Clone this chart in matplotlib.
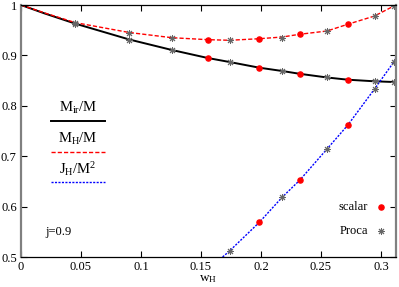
import matplotlib
matplotlib.use("Agg")
import matplotlib.pyplot as plt
from matplotlib.lines import Line2D

plt.rcParams['font.family'] = ['Liberation Serif', 'DejaVu Serif']
plt.rcParams['mathtext.fontset'] = 'custom'
plt.rcParams['mathtext.rm'] = 'Liberation Serif'
plt.rcParams['mathtext.it'] = 'Liberation Serif'

# Curves
curve_w_ir = [0.0, 0.02, 0.0453, 0.0903, 0.1258, 0.1557, 0.1738, 0.1986, 0.2178, 0.2322, 0.255, 0.2722, 0.2947, 0.3107, 0.3125]
curve_ir = [1.0, 0.983, 0.963, 0.9315, 0.9107, 0.8948, 0.8869, 0.8756, 0.869, 0.8635, 0.8562, 0.8518, 0.8486, 0.8472, 0.8471]

curve_w_mh = [0.0, 0.02, 0.0453, 0.0903, 0.1258, 0.1557, 0.1738, 0.1986, 0.2178, 0.2322, 0.255, 0.2722, 0.2947, 0.3107, 0.3125]
curve_mh = [1.0, 0.984, 0.965, 0.9454, 0.9351, 0.9312, 0.930, 0.9331, 0.9365, 0.9419, 0.9484, 0.9617, 0.9782, 0.998, 1.0]

curve_w_jh = [0.168, 0.1738, 0.1986, 0.2178, 0.2322, 0.255, 0.2722, 0.2947, 0.3107, 0.3125]
curve_jh = [0.5, 0.512, 0.5688, 0.619, 0.6522, 0.7143, 0.7613, 0.8337, 0.887, 0.897]

# Scalar points
scalar_w = [0.1557, 0.1986, 0.2322, 0.2722]
scalar_mh = [0.9312, 0.9331, 0.9419, 0.9617]
scalar_ir = [0.8948, 0.8756, 0.8635, 0.8518]
scalar_jw = [0.1986, 0.2322, 0.2722]
scalar_jh = [0.5688, 0.6522, 0.7613]

# Proca points
proca_w = [0.0453, 0.0903, 0.1258, 0.1738, 0.2178, 0.255, 0.2947, 0.3107]
proca_mh = [0.9637, 0.9454, 0.9351, 0.930, 0.9351, 0.9484, 0.9782, 0.998]
proca_ir = [0.962, 0.9315, 0.9107, 0.8869, 0.869, 0.8562, 0.8486, 0.8472]
proca_jw = [0.1738, 0.2178, 0.255, 0.2947, 0.3107]
proca_jh = [0.5119, 0.619, 0.7143, 0.8337, 0.887]

xticks = [0, 0.05, 0.1, 0.15, 0.2, 0.25, 0.3]
xticklabels = ['0', '0.05', '0.1', '0.15', '0.2', '0.25', '0.3']
yticks = [0.5, 0.6, 0.7, 0.8, 0.9, 1.0]
yticklabels = ['0.5', '0.6', '0.7', '0.8', '0.9', '1']

fig = plt.figure(figsize=(3.99, 2.87), dpi=100)
ax = fig.add_axes([21/399, 1-257/287, 375/399, 252/287])

ax.plot(curve_w_ir, curve_ir, color='black', lw=1.4, solid_capstyle='butt')
ax.plot(curve_w_mh, curve_mh, color='red', lw=1.0, dashes=(3, 1.5))
ax.plot(curve_w_jh, curve_jh, color='blue', lw=1.0, dashes=(1.5, 1.0))

ast = (8, 2, 0)
star_kw = dict(ls='none', marker=ast, ms=5, mew=0.7, color='#666666')
dot_kw = dict(ls='none', marker='o', ms=3.7, color='red', mec='red')

ax.plot(scalar_w, scalar_mh, **dot_kw)
ax.plot(scalar_w, scalar_ir, **dot_kw)
ax.plot(scalar_jw, scalar_jh, **dot_kw)
ax.plot(proca_w, proca_mh, **star_kw)
ax.plot(proca_w, proca_ir, **star_kw)
ax.plot(proca_jw, proca_jh, **star_kw)

ax.set_xlim(0, 0.3125)
ax.set_ylim(0.5, 1.0)
ax.set_xticks(xticks)
ax.set_xticklabels(xticklabels)
ax.set_yticks(yticks)
ax.set_yticklabels(yticklabels)
ax.tick_params(direction='in', top=True, right=True, length=4, width=0.8,
               labelsize=9, pad=3)
for s in ['top', 'bottom']:
    ax.spines[s].set_linewidth(0.9)
    ax.spines[s].set_color('black')
for s in ['left', 'right']:
    ax.spines[s].set_linewidth(1.6)
    ax.spines[s].set_color('#808080')

ax.set_xlabel(r'w$_\mathregular{H}$', fontsize=9.5, labelpad=0)

tr = ax.transAxes
def to_axes(px, py):
    x0, y0 = 21, 257
    return (px - x0) / 375, (y0 - py) / 252

lx0, _ = to_axes(51, 0)
lx1, _ = to_axes(105, 0)
for label, ty, ly, kw in [
    (r'M$_\mathregular{ir}$/M', 108, 121, dict(color='black', lw=1.4)),
    (r'M$_\mathregular{H}$/M', 139, 151.5, dict(color='red', lw=1.0, dashes=(3, 1.5))),
    (r'J$_\mathregular{H}$/M$^\mathregular{2}$', 169, 181.5, dict(color='blue', lw=1.0, dashes=(1.5, 1.0))),
]:
    cx, cy = to_axes(78, ty)
    ax.text(cx, cy, label, transform=tr, ha='center', va='center', fontsize=10.5)
    _, yy = to_axes(0, ly)
    ax.add_line(Line2D([lx0, lx1], [yy, yy], transform=tr, **kw))

tx, ty = to_axes(45, 232)
ax.text(tx, ty, 'j=0.9', transform=tr, ha='left', va='center', fontsize=9)

# Markers legend
rx, ry = to_axes(368, 206.5)
ax.text(rx, ry, 'scalar', transform=tr, ha='right', va='center', fontsize=9)
mx, _ = to_axes(380.7, 0)
ax.plot([mx], [ry], transform=tr, **dot_kw)
rx2, ry2 = to_axes(368, 230.5)
ax.text(rx2, ry2, 'Proca', transform=tr, ha='right', va='center', fontsize=9)
ax.plot([mx], [ry2], transform=tr, **star_kw)

fig.savefig('out.png', dpi=100)
